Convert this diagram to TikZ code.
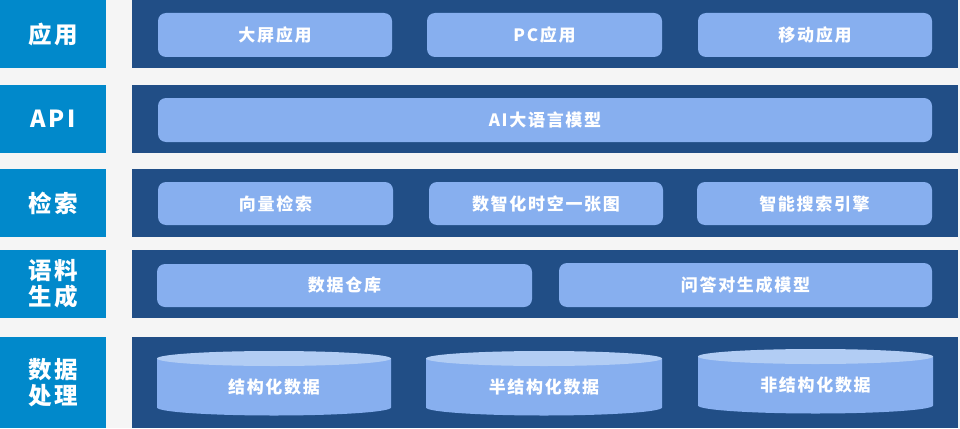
\documentclass[tikz,border=0pt]{standalone}
\usepackage{fontspec}
\newfontfamily\cjk{Noto Sans CJK SC}[LetterSpace=10]
\definecolor{pagegray}{HTML}{F5F5F5}
\definecolor{labelblue}{HTML}{0189CB}
\definecolor{panelblue}{HTML}{214E86}
\definecolor{cellblue}{HTML}{87AFEF}
\definecolor{toplight}{HTML}{B2CDF4}
\begin{document}
\begin{tikzpicture}[x=1pt, y=-1pt,
    layer/.style={fill=labelblue, text=white, inner sep=0pt, anchor=north west,
        minimum width=106, align=center, font=\cjk\bfseries\fontsize{23.5}{26}\selectfont},
    panel/.style={fill=panelblue, inner sep=0pt, anchor=north west, minimum width=826},
    cell/.style={fill=cellblue, rounded corners=8pt, inner sep=0pt, text=white,
        font=\cjk\bfseries\fontsize{17}{19}\selectfont},
    celltext/.style={text=white, inner sep=0pt, font=\cjk\bfseries\fontsize{17}{19}\selectfont}]
\fill[pagegray] (0,0) rectangle (960,428);
\useasboundingbox (0,0) rectangle (960,428);

\foreach \y/\h/\name/\xtext in {0/68/app/应用, 85/68/api/API, 169/68/search/检索,
    250/68/corpus/{语料\\生成}, 337/91/data/{数据\\处理}}
{
    \node[layer, minimum height=\h] (\name) at (0,\y) {\xtext};
    \node[panel, minimum height=\h] (\name panel) at (132,\y) {};
}

\foreach \x/\w/\y/\h/\name/\xtext in {275/234/35/44/big/大屏应用, 544.5/235/35/44/pc/PC应用,
    815/234/35/44/mobile/移动应用, 545/774/120/44/llm/AI大语言模型,
    275.5/235/203.5/43/vector/向量检索, 546/234/203.5/43/map/数智化时空一张图,
    814.5/235/203.5/43/engine/智能搜索引擎, 344.5/375/285.5/43/warehouse/数据仓库,
    745.5/373/285/44/qa/问答对生成模型}
{
    \node[cell, minimum width=\w, minimum height=\h] (\name) at (\x,\y) {\xtext};
}

\foreach \x/\w/\y/\name/\xtext in {274/117/358.5/struct/结构化数据,
    544/118/358.5/semi/半结构化数据, 815.5/117.5/356.5/unstruct/非结构化数据}
{
    \fill[cellblue] (\x-\w,\y) -- (\x-\w,\y+49) arc[start angle=180, end angle=0, x radius=\w, y radius=8]
        -- (\x+\w,\y) -- cycle;
    \fill[toplight] (\x,\y) ellipse[x radius=\w, y radius=7.5];
    \node[celltext] (\name) at (\x,\y+29) {\xtext};
}
\end{tikzpicture}
\end{document}
